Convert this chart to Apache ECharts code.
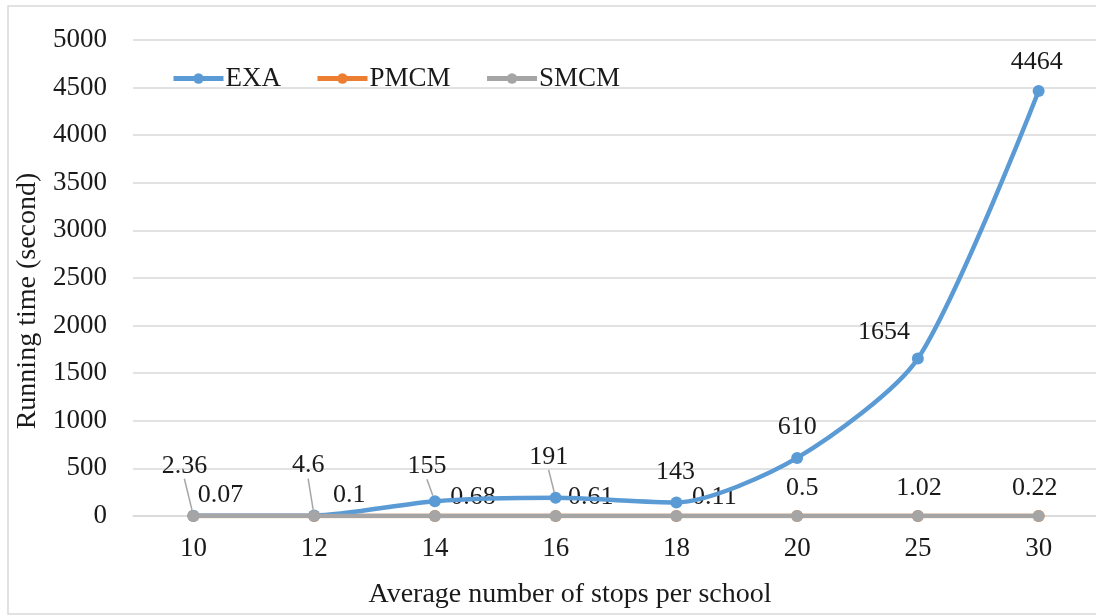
<!DOCTYPE html>
<html><head><meta charset="utf-8">
<script src="https://cdn.jsdelivr.net/npm/echarts@6/dist/echarts.min.js"></script>
<style>html,body{margin:0;padding:0;background:#fff}#c{width:1096px;height:616px}</style>
</head><body><div id="c"></div>
<script>
var categories = ['10','12','14','16','18','20','25','30'];
var exaValues = [2.36, 4.6, 155, 191, 143, 610, 1654, 4464];
var pmcmValues = [0.07, 0.1, 0.68, 0.61, 0.11, 0.5, 1.02, 0.22];
var smcmValues = [0.05, 0.08, 0.5, 0.45, 0.09, 0.4, 0.8, 0.18];
var yTicks = [0, 500, 1000, 1500, 2000, 2500, 3000, 3500, 4000, 4500, 5000];

// label nudges (layout only, pixels)
var exaLabelDx = [-9, -6, -8, -7, -1, 0, -34, -2];
var exaLabelDy = [-26, -26, -11, -17, -6, -7, -2, -5];
var exaLeader = [true, true, true, true, false, false, false, false];
var pmcmLabelDx = [27, 35, 38, 35, 38, 5, 1, -4];
var pmcmLabelDy = [3, 3, 5, 5, 5, -4, -4, -4];

var FONT = '"Liberation Serif", "Times New Roman", serif';
var TXT = '#1a1a1a';

var exaData = exaValues.map(function (v, i) {
  return {value: v, labelLine: {show: exaLeader[i]}};
});

var chart = echarts.init(document.getElementById('c'));
chart.setOption({
  animation: false,
  backgroundColor: '#fff',
  textStyle: {fontFamily: FONT, color: TXT},
  graphic: [{type: 'rect', shape: {x: 8, y: 6, width: 1100, height: 608},
    style: {fill: 'none', stroke: '#d9d9d9', lineWidth: 1.5}, silent: true, z: -1}],
  grid: {left: 133, right: -3, top: 40, bottom: 100, containLabel: false, outerBoundsMode: 'none'},
  legend: {
    left: 166, top: 60, itemWidth: 50, itemHeight: 13, itemGap: 34,
    lineStyle: {width: 5},
    textStyle: {fontFamily: FONT, fontSize: 27, color: TXT, padding: [0, 0, 0, -3]},
    data: ['EXA', 'PMCM', 'SMCM']
  },
  xAxis: {
    type: 'category', data: categories, boundaryGap: true,
    name: 'Average number of stops per school', nameLocation: 'middle', nameGap: 65,
    nameTextStyle: {fontFamily: FONT, fontSize: 28, color: TXT, padding: [0, 92, 0, 0]},
    axisLine: {lineStyle: {color: '#d9d9d9', width: 1.5}},
    axisTick: {show: false},
    axisLabel: {fontFamily: FONT, fontSize: 27, color: TXT, margin: 19}
  },
  yAxis: {
    type: 'value', min: yTicks[0], max: yTicks[yTicks.length - 1], interval: 500,
    name: 'Running time (second)', nameLocation: 'middle', nameGap: 91,
    nameTextStyle: {fontFamily: FONT, fontSize: 28, color: TXT, padding: [0, 46, 0, 0]},
    axisLine: {show: false}, axisTick: {show: false},
    axisLabel: {fontFamily: FONT, fontSize: 27, color: TXT, margin: 26,
      formatter: function (v) { return String(v); }},
    splitLine: {lineStyle: {color: '#d9d9d9', width: 1.5}}
  },
  series: [
    {name: 'EXA', type: 'line', data: exaData, color: '#5B9BD5',
     symbol: 'circle', symbolSize: 12, lineStyle: {width: 4.5}, smooth: 0.25, z: 3,
     label: {show: true, position: 'top', distance: 5, fontFamily: FONT, fontSize: 26, color: TXT},
     labelLine: {lineStyle: {color: '#a6a6a6', width: 1.5}},
     labelLayout: function (p) { return {dx: exaLabelDx[p.dataIndex], dy: exaLabelDy[p.dataIndex]}; }
    },
    {name: 'PMCM', type: 'line', data: pmcmValues, color: '#ED7D31',
     symbol: 'circle', symbolSize: 12, lineStyle: {width: 4.5}, z: 2,
     label: {show: true, position: 'top', distance: 5, fontFamily: FONT, fontSize: 26, color: TXT},
     labelLayout: function (p) { return {dx: pmcmLabelDx[p.dataIndex], dy: pmcmLabelDy[p.dataIndex]}; }
    },
    {name: 'SMCM', type: 'line', data: smcmValues, color: '#A5A5A5',
     symbol: 'circle', symbolSize: 12, lineStyle: {width: 4.5}, z: 4
    }
  ]
});
</script></body></html>
